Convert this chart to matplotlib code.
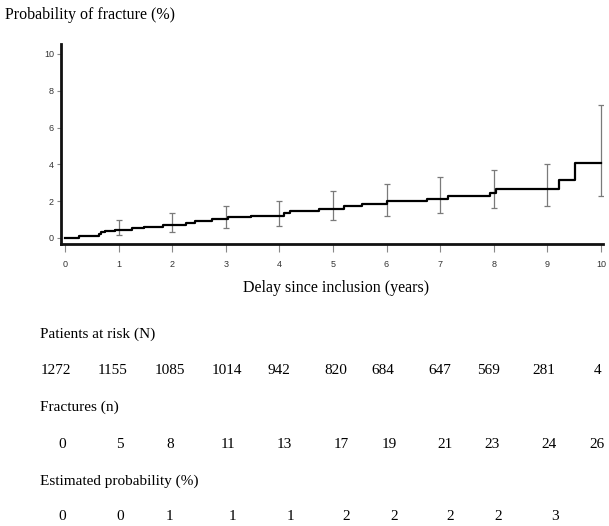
import matplotlib
matplotlib.use("Agg")
import matplotlib.pyplot as plt
import numpy as np

# ---- data ----
step_times = [0, 0.27, 0.63, 0.68, 0.75, 0.93, 1.25, 1.47, 1.83, 2.26, 2.43, 2.74,
              3.04, 3.48, 4.09, 4.20, 4.74, 5.21, 5.54, 6.00, 6.76, 7.14, 7.93,
              8.05, 9.22, 9.52, 10.0]
step_probs = [0, 0.09, 0.20, 0.30, 0.38, 0.45, 0.53, 0.60, 0.71, 0.82, 0.92, 1.03,
              1.12, 1.21, 1.34, 1.48, 1.59, 1.72, 1.86, 2.01, 2.14, 2.30, 2.46,
              2.64, 3.13, 4.09, 4.09]
ci_years = [1, 2, 3, 4, 5, 6, 7, 8, 9, 10]
ci_lower = [0.15, 0.33, 0.53, 0.67, 0.99, 1.18, 1.38, 1.63, 1.76, 2.28]
ci_upper = [1.00, 1.36, 1.74, 1.99, 2.57, 2.93, 3.32, 3.71, 4.00, 7.21]

x_ticks = [0, 1, 2, 3, 4, 5, 6, 7, 8, 9, 10]
y_ticks = [0, 2, 4, 6, 8, 10]

patients_at_risk = ["1272", "1155", "1085", "1014", "942", "820", "684", "647", "569", "281", "4"]
fractures = ["0", "5", "8", "11", "13", "17", "19", "21", "23", "24", "26"]
est_prob = ["0", "0", "1", "1", "1", "2", "2", "2", "2", "3"]

# ---- layout (pixels) ----
W, H = 609, 526
fig = plt.figure(figsize=(W / 100, H / 100), dpi=100)
L, R, T, B = 61, 603, 44, 244
ax = fig.add_axes([L / W, (H - B) / H, (R - L) / W, (B - T) / H])

serif = "Liberation Serif"
sans = "Liberation Sans"

ax.step(step_times, step_probs, where="post", color="black", lw=1.6, zorder=3)

lo = np.array(ci_lower)
hi = np.array(ci_upper)
mid = (lo + hi) / 2
ax.errorbar(ci_years, mid, yerr=(hi - lo) / 2, fmt="none", ecolor="#7a7a7a",
            elinewidth=0.9, capsize=2.2, capthick=0.9, zorder=2)

ax.set_xlim(-0.075, 10.04)
ax.set_ylim(-0.33, 10.54)
ax.set_xticks(x_ticks)
ax.set_yticks(y_ticks)
ax.set_xticklabels([str(v) for v in x_ticks], fontfamily=sans, fontsize=6.5, color="#333333")
ax.set_yticklabels([str(v) for v in y_ticks], fontfamily=sans, fontsize=6.5, color="#333333")
ax.tick_params(axis="x", direction="out", length=5.5, width=0.8, color="#888888", pad=6)
ax.tick_params(axis="y", direction="out", length=3, width=0.8, color="#888888", pad=2)

for s in ["top", "right"]:
    ax.spines[s].set_visible(False)
for s in ["left", "bottom"]:
    ax.spines[s].set_linewidth(2.0)
    ax.spines[s].set_color("#111111")

def ftext(x, y, s, ha="left", size=11):
    fig.text(x / W, 1 - y / H, s, ha=ha, va="center", fontfamily=serif,
             fontsize=size, color="black")

ftext(5, 15, "Probability of fracture (%)", size=11.5)
ftext(336, 288, "Delay since inclusion (years)", ha="center", size=11.5)

ftext(40, 334, "Patients at risk (N)")
ftext(40, 407, "Fractures (n)")
ftext(40, 481, "Estimated probability (%)")

row1_x = [55.5, 113, 170, 227, 279, 336, 383, 440, 488, 544, 598]
row2_x = [62.5, 120, 170, 228, 284.5, 341, 389, 445, 492, 549.5, 596.5]
row3_x = [62, 120, 169, 232.5, 290, 346.5, 394, 450.5, 498.5, 555]

for x, s in zip(row1_x, patients_at_risk):
    ftext(x, 370, s, ha="center")
for x, s in zip(row2_x, fractures):
    ftext(x, 444, s, ha="center")
for x, s in zip(row3_x, est_prob):
    ftext(x, 517, s, ha="center")

fig.savefig("out.png", dpi=100)
